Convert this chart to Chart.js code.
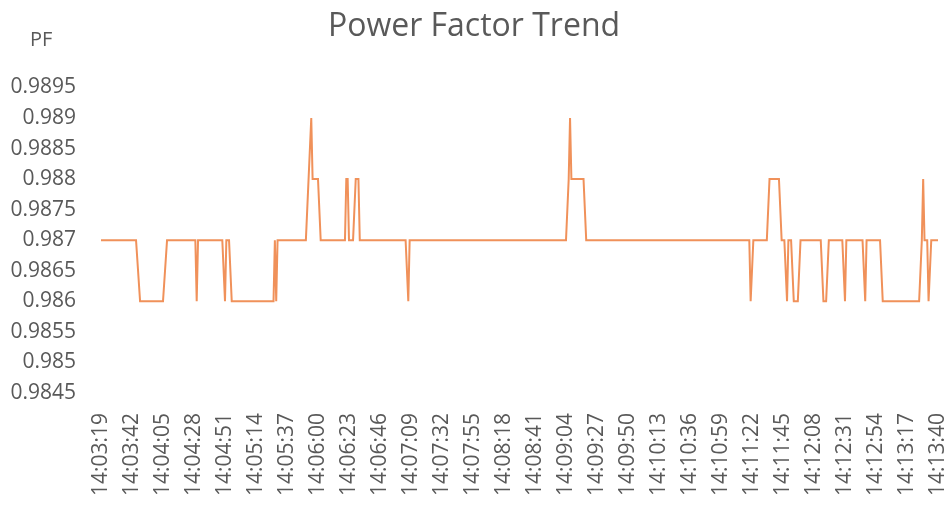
<!DOCTYPE html>
<html>
<head>
<meta charset="utf-8">
<title>Power Factor Trend</title>
<script src="https://cdn.jsdelivr.net/npm/chart.js"></script>
<style>
  html, body { margin: 0; padding: 0; background: #fff; }
  #wrap { width: 948px; height: 508px; position: relative; }
</style>
</head>
<body>
<div id="wrap"><canvas id="pf"></canvas></div>
<script>
// x tick labels, every 23 s from the first sample
const timeLabels = ['14:03:19','14:03:42','14:04:05','14:04:28','14:04:51','14:05:14','14:05:37',
    '14:06:00','14:06:23','14:06:46','14:07:09','14:07:32','14:07:55','14:08:18','14:08:41',
    '14:09:04','14:09:27','14:09:50','14:10:13','14:10:36','14:10:59','14:11:22','14:11:45',
    '14:12:08','14:12:31','14:12:54','14:13:17','14:13:40'];

const pfTicks = [0.9845, 0.985, 0.9855, 0.986, 0.9865, 0.987, 0.9875, 0.988, 0.9885, 0.989, 0.9895];

// corners of the trace: seconds after 14:03:19 and the PF read there
const sampleSec = [
    0, 26, 29, 46, 49, 70, 71, 72, 90, 92, 93, 95, 97,
    128, 129, 130, 131, 152, 156, 157, 161, 163,
    181, 182, 183, 184, 187, 189, 191, 192,
    226, 228, 229,
    345, 347, 348, 349, 358, 360,
    481, 482, 484, 494, 496, 503, 505,
    507, 509, 510, 512, 514, 517, 519,
    534, 536, 538, 540, 550, 552, 553, 565, 567, 568,
    578, 580, 607, 609, 610, 611, 613, 614, 616, 621
];
const pfValues = [
    0.987, 0.987, 0.986, 0.986, 0.987, 0.987, 0.986, 0.987, 0.987, 0.986, 0.987, 0.987, 0.986,
    0.986, 0.987, 0.986, 0.987, 0.987, 0.989, 0.988, 0.988, 0.987,
    0.987, 0.988, 0.988, 0.987, 0.987, 0.988, 0.988, 0.987,
    0.987, 0.986, 0.987,
    0.987, 0.988, 0.989, 0.988, 0.988, 0.987,
    0.987, 0.986, 0.987, 0.987, 0.988, 0.988, 0.987,
    0.987, 0.986, 0.987, 0.987, 0.986, 0.986, 0.987,
    0.987, 0.986, 0.986, 0.987, 0.987, 0.986, 0.987, 0.987, 0.986, 0.987,
    0.987, 0.986, 0.986, 0.987, 0.988, 0.987, 0.987, 0.986, 0.987, 0.987
];

function toSec(s){ const p = s.split(':').map(Number); return p[0]*3600 + p[1]*60 + p[2]; }
const t0 = toSec(timeLabels[0]);
const tickSec = timeLabels.map(l => toSec(l) - t0);

const GREY = '#595959';
const FONT = '"Open Sans", "DejaVu Sans", sans-serif';

// "PF" unit caption above the value axis
const unitLabel = {
    id: 'unitLabel',
    afterDraw(chart){
        const c = chart.ctx;
        c.save();
        c.font = '20px ' + FONT;
        c.fillStyle = GREY;
        c.textAlign = 'left';
        c.textBaseline = 'middle';
        c.fillText('PF', 30, 40);
        c.restore();
    }
};

new Chart(document.getElementById('pf'), {
    type: 'line',
    data: {
        datasets: [{
            data: sampleSec.map((s, i) => ({x: s, y: pfValues[i]})),
            borderColor: '#F0915A',
            borderWidth: 2,
            pointRadius: 0,
            tension: 0,
            fill: false
        }]
    },
    options: {
        responsive: true,
        maintainAspectRatio: false,
        animation: false,
        layout: { padding: 0 },
        plugins: {
            legend: { display: false },
            tooltip: { enabled: false },
            title: {
                display: true,
                text: 'Power Factor Trend',
                color: GREY,
                font: { family: FONT, size: 32, weight: 'normal' },
                padding: { top: 8, bottom: 41 }
            }
        },
        scales: {
            x: {
                type: 'linear',
                min: tickSec[0],
                max: tickSec[tickSec.length-1],
                grid: { display: false, drawTicks: false },
                border: { display: false },
                afterBuildTicks(scale){ scale.ticks = tickSec.map(v => ({value: v})); },
                // fixed band under the plot, keep 10px free on the right
                afterFit(scale){ scale.height = 115; scale.paddingLeft = 0; scale.paddingRight = 10; },
                ticks: {
                    autoSkip: false,
                    minRotation: 90,
                    maxRotation: 90,
                    padding: 20,
                    color: GREY,
                    font: { family: FONT, size: 21 },
                    callback: (v, i) => timeLabels[i]
                }
            },
            y: {
                min: pfTicks[0],
                max: pfTicks[pfTicks.length-1],
                grid: { display: false, drawTicks: false },
                border: { display: false },
                afterBuildTicks(scale){ scale.ticks = pfTicks.map(v => ({value: v})); },
                afterFit(scale){ scale.width = 101; },
                ticks: {
                    padding: 25,
                    color: GREY,
                    font: { family: FONT, size: 21 },
                    callback: v => String(Number(v.toFixed(4)))
                }
            }
        }
    },
    plugins: [unitLabel]
});
</script>
</body>
</html>
